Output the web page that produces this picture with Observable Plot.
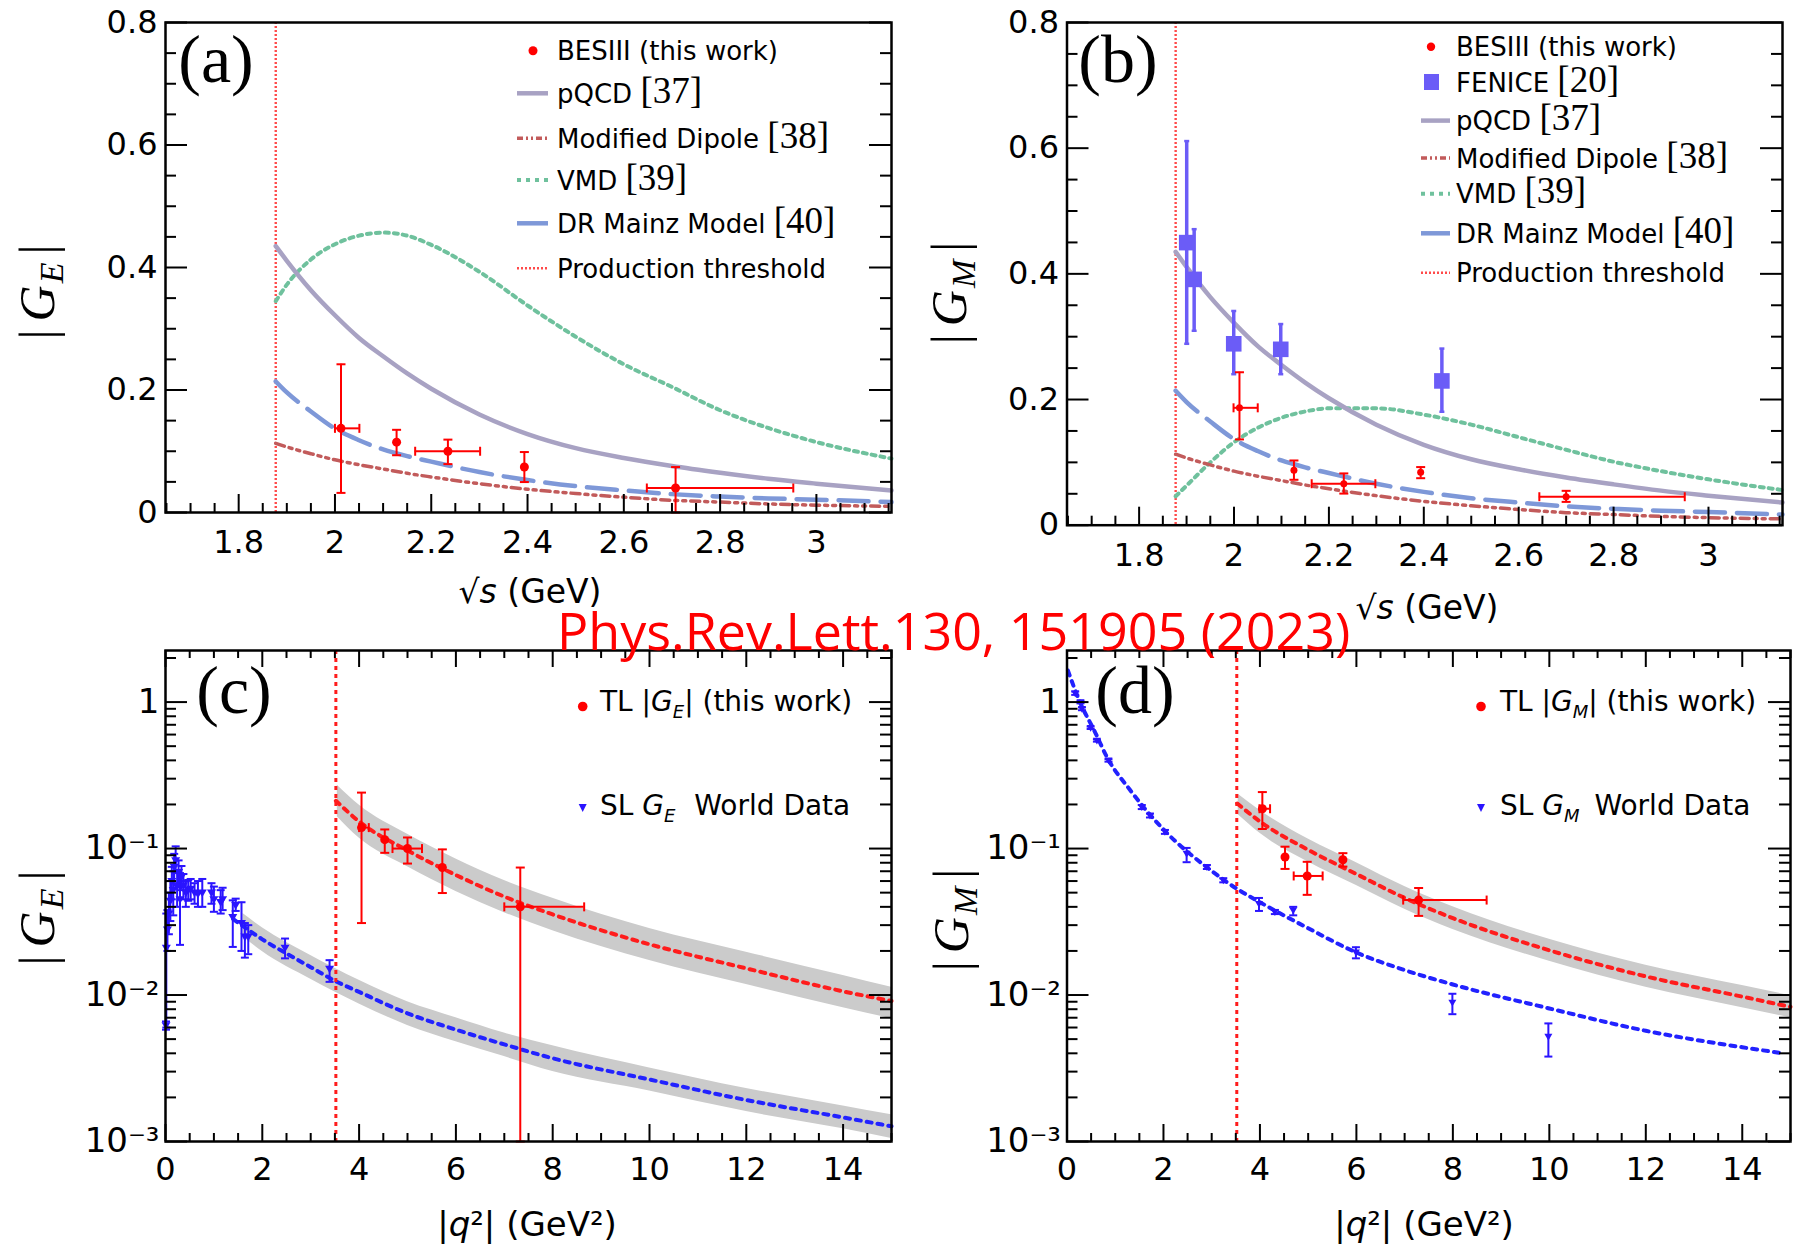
<!DOCTYPE html>
<html><head><meta charset="utf-8">
<script src="https://cdn.jsdelivr.net/npm/d3@7"></script>
<script src="https://cdn.jsdelivr.net/npm/@observablehq/plot@0.6"></script>
<style>
body{margin:0;background:#fff;}
#root{position:relative;width:1801px;height:1251px;overflow:hidden;background:#fff;}
.panel{position:absolute;}
.panel svg{max-width:none;}
#over{position:absolute;left:0;top:0;pointer-events:none;}
</style></head><body><div id="root"></div><script>
// ================= DATA =================
// (a) BESIII |G_E| vs sqrt(s)
const besGE_x   = [2.0125, 2.128, 2.2346, 2.3934, 2.7075];
const besGE_y   = [0.1374, 0.1148, 0.100, 0.0742, 0.040];
const besGE_lo  = [0.032, 0.0935, 0.079, 0.0497, 0.0];
const besGE_hi  = [0.242, 0.135, 0.119, 0.0987, 0.0742];
const besGE_xlo = [2.0, null, 2.1666, null, 2.6478];
const besGE_xhi = [2.0507, null, 2.3015, null, 2.952];
// (b) BESIII |G_M| vs sqrt(s)
const besGM_x   = [2.0115, 2.1263, 2.2314, 2.3934, 2.70];
const besGM_y   = [0.1868, 0.0874, 0.066, 0.0843, 0.0453];
const besGM_lo  = [0.1365, 0.0723, 0.0503, 0.0748, 0.0371];
const besGM_hi  = [0.2434, 0.103, 0.0824, 0.0925, 0.0547];
const besGM_xlo = [1.999, null, 2.1637, null, 2.6435];
const besGM_xhi = [2.050, null, 2.2979, null, 2.95];
// (b) FENICE
const fen_x  = [1.9003, 1.916, 1.9994, 2.0985, 2.4381];
const fen_y  = [0.4497, 0.3912, 0.2887, 0.2799, 0.2296];
const fen_lo = [0.2887, 0.3094, 0.2403, 0.2403, 0.1805];
const fen_hi = [0.6113, 0.4711, 0.3409, 0.3201, 0.2811];
// model curves (a),(b)
const sqrtS_grid = [1.877, 1.9, 1.95, 2.0, 2.05, 2.1, 2.15, 2.2, 2.3, 2.4, 2.5, 2.6, 2.7, 2.8, 2.9, 3.0, 3.156];
const pqcd_y   = [0.435, 0.411, 0.363, 0.322, 0.285, 0.255, 0.227, 0.202, 0.160, 0.128, 0.105, 0.089, 0.076, 0.065, 0.055, 0.047, 0.036];
const moddip_y = [0.113, 0.107, 0.096, 0.086, 0.078, 0.071, 0.064, 0.058, 0.047, 0.038, 0.031, 0.025, 0.020, 0.017, 0.014, 0.012, 0.010];
const vmdE_y   = [0.345, 0.372, 0.413, 0.438, 0.452, 0.457, 0.452, 0.437, 0.393, 0.338, 0.287, 0.242, 0.205, 0.167, 0.138, 0.115, 0.088];
const vmdM_y   = [0.046, 0.063, 0.100, 0.132, 0.155, 0.171, 0.181, 0.186, 0.186, 0.176, 0.160, 0.140, 0.120, 0.101, 0.086, 0.073, 0.056];
const drm_y    = [0.214, 0.196, 0.165, 0.137, 0.118, 0.103, 0.092, 0.083, 0.066, 0.053, 0.043, 0.036, 0.030, 0.026, 0.023, 0.021, 0.017];
const thrS = 1.877;
// (c) TL |G_E| vs |q2|
const tlGE_q2  = [4.05, 4.53, 5.0, 5.72, 7.33];
const tlGE_y   = [0.139, 0.115, 0.100, 0.0742, 0.040];
const tlGE_lo  = [0.031, 0.0935, 0.079, 0.0497, 0.001];
const tlGE_hi  = [0.241, 0.135, 0.119, 0.0987, 0.0742];
const tlGE_xlo = [4.0, null, 4.69, null, 7.0];
const tlGE_xhi = [4.2, null, 5.30, null, 8.65];
// (c) SL G_E world data
const slGE_q2 = [0.01, 0.017, 0.04, 0.07, 0.10, 0.13, 0.16, 0.18, 0.21, 0.24, 0.27, 0.30, 0.33, 0.37, 0.42, 0.47, 0.52, 0.60, 0.67, 0.76, 0.95, 1.0, 1.14, 1.18, 1.39, 1.45, 1.57, 1.64, 1.71, 2.47, 3.39];
const slGE_y  = [0.0062, 0.021, 0.028, 0.036, 0.044, 0.060, 0.052, 0.075, 0.083, 0.055, 0.069, 0.045, 0.064, 0.056, 0.050, 0.052, 0.053, 0.050, 0.049, 0.050, 0.050, 0.045, 0.043, 0.045, 0.034, 0.041, 0.031, 0.025, 0.025, 0.021, 0.0151];
const slGE_lo = [0.0058, 0.006, 0.020, 0.026, 0.032, 0.045, 0.035, 0.058, 0.068, 0.040, 0.055, 0.022, 0.052, 0.045, 0.040, 0.044, 0.045, 0.042, 0.040, 0.040, 0.042, 0.037, 0.036, 0.038, 0.0213, 0.0375, 0.020, 0.018, 0.019, 0.0178, 0.0123];
const slGE_hi = [0.0066, 0.036, 0.038, 0.050, 0.060, 0.075, 0.070, 0.092, 0.1035, 0.070, 0.083, 0.068, 0.076, 0.067, 0.060, 0.061, 0.062, 0.058, 0.060, 0.062, 0.058, 0.055, 0.052, 0.054, 0.0443, 0.0455, 0.043, 0.031, 0.030, 0.0243, 0.0173];
// (c) fits and bands
const fitTLE_x = [3.52, 4, 5, 6, 7, 8, 10, 12, 14, 15];
const fitTLE_y = [0.212, 0.153, 0.097, 0.066, 0.047, 0.0355, 0.0222, 0.0152, 0.0106, 0.0091];
const bandTLE_x  = [3.55, 4, 5, 6, 7, 8, 10, 12, 14, 15];
const bandTLE_lo = [0.165, 0.118, 0.075, 0.051, 0.0365, 0.0275, 0.0172, 0.0118, 0.0082, 0.0069];
const bandTLE_hi = [0.270, 0.198, 0.125, 0.085, 0.0605, 0.0458, 0.0285, 0.0196, 0.0136, 0.0113];
const fitSLE_x = [1.4, 2, 2.5, 3, 3.5, 4, 5, 6, 7, 8, 10, 12, 14, 15];
const fitSLE_y = [0.033, 0.024, 0.0192, 0.0155, 0.0125, 0.0105, 0.0075, 0.0058, 0.0046, 0.0037, 0.00265, 0.00192, 0.00146, 0.00127];
const bandSLE_x  = [1.6, 2, 3, 4, 5, 6, 7, 8, 10, 12, 14, 15];
const bandSLE_lo = [0.025, 0.0198, 0.0128, 0.0087, 0.0062, 0.0048, 0.0038, 0.0030, 0.00221, 0.0016, 0.00122, 0.00105];
const bandSLE_hi = [0.036, 0.0288, 0.0186, 0.0126, 0.0090, 0.0070, 0.0055, 0.0045, 0.00318, 0.0023, 0.00175, 0.00152];
const thrQ2 = 3.52;
// (d) TL |G_M|
const tlGM_q2  = [4.05, 4.52, 4.98, 5.72, 7.29];
const tlGM_y   = [0.187, 0.0875, 0.065, 0.0838, 0.0445];
const tlGM_lo  = [0.136, 0.0726, 0.0483, 0.0753, 0.0347];
const tlGM_hi  = [0.243, 0.103, 0.0812, 0.093, 0.0538];
const tlGM_xlo = [3.99, null, 4.70, null, 6.97];
const tlGM_xhi = [4.21, null, 5.30, null, 8.70];
// (d) SL G_M world data
const slGM_q2 = [0.17, 0.28, 0.31, 0.49, 0.62, 0.86, 1.55, 1.72, 2.03, 2.48, 2.90, 3.24, 3.98, 4.31, 4.69, 5.99, 7.99, 9.98];
const slGM_y  = [1.15, 1.0, 0.90, 0.667, 0.547, 0.40, 0.192, 0.168, 0.130, 0.0923, 0.0748, 0.0607, 0.042, 0.0369, 0.0379, 0.0196, 0.0089, 0.0052];
const slGM_lo = [1.12, 0.98, 0.88, 0.655, 0.537, 0.392, 0.186, 0.163, 0.126, 0.0807, 0.0725, 0.0588, 0.0375, 0.0357, 0.035, 0.0178, 0.0074, 0.0038];
const slGM_hi = [1.18, 1.02, 0.92, 0.68, 0.557, 0.408, 0.198, 0.173, 0.134, 0.101, 0.0771, 0.0626, 0.046, 0.0381, 0.040, 0.0212, 0.0102, 0.0064];
const fitTLM_x = [3.53, 4, 5, 6, 7, 8, 10, 12, 14, 15];
const fitTLM_y = [0.203, 0.153, 0.098, 0.067, 0.046, 0.0335, 0.0202, 0.0134, 0.00975, 0.0083];
const bandTLM_x  = [3.55, 4, 5, 6, 7, 8, 10, 12, 14, 15];
const bandTLM_lo = [0.170, 0.127, 0.081, 0.056, 0.0385, 0.028, 0.017, 0.0113, 0.0082, 0.0070];
const bandTLM_hi = [0.235, 0.182, 0.116, 0.080, 0.055, 0.040, 0.024, 0.016, 0.0116, 0.0099];
const fitSLM_x = [0.02, 0.24, 0.59, 0.83, 1.3, 2.0, 2.97, 3.5, 4.0, 5, 6, 7, 8, 10, 12, 14, 14.85];
const fitSLM_y = [1.64, 1.05, 0.615, 0.42, 0.253, 0.135, 0.0715, 0.0537, 0.043, 0.0286, 0.0195, 0.0148, 0.0118, 0.0081, 0.0057, 0.0044, 0.0040];

// tick values and labels
const xTickS = [1.8, 2.0, 2.2, 2.4, 2.6, 2.8, 3.0];
const xLabS  = ["1.8", "2", "2.2", "2.4", "2.6", "2.8", "3"];
const yTickLin = [0, 0.2, 0.4, 0.6, 0.8];
const yLabLin  = ["0", "0.2", "0.4", "0.6", "0.8"];
const xTickQ = [0, 2, 4, 6, 8, 10, 12, 14];
const xLabQ  = ["0", "2", "4", "6", "8", "10", "12", "14"];
const yTickLog = [0.001, 0.01, 0.1, 1];
const yLabLog  = ["10\u207B\u00B3", "10\u207B\u00B2", "10\u207B\u00B9", "1"];

// ================= HELPERS =================
const recs = (xs, f) => xs.map((x, i) => f(x, i));
const hcap = {draw(ctx, size){const r = Math.sqrt(size / Math.PI); ctx.moveTo(-r, 0); ctx.lineTo(r, 0);}};
const vcap = {draw(ctx, size){const r = Math.sqrt(size / Math.PI); ctx.moveTo(0, -r); ctx.lineTo(0, r);}};
const tridown = {draw(ctx, size){const r = Math.sqrt(size / Math.PI); ctx.moveTo(-r, -r * 0.7); ctx.lineTo(r, -r * 0.7); ctx.lineTo(0, r); ctx.closePath();}};

const C = {
  red: "#ff0000", fen: "#6b5cf7", pqcd: "#a8a2c3", dip: "#c25b5b", vmd: "#6fc19d", drm: "#7e98d8",
  thr: "#ff4a4a", blue: "#2a14ff", band: "#cbcbcb", fitR: "#ff1c1c", fitB: "#2222ff"
};

const root = document.getElementById("root");
function place(svg, left, top, w, h) {
  const div = document.createElement("div");
  div.className = "panel";
  div.style.left = left + "px"; div.style.top = top + "px";
  div.style.width = w + "px"; div.style.height = h + "px";
  div.appendChild(svg);
  root.appendChild(div);
  return d3.select(svg);
}

function frameTicks(o) {
  const {xMaj, xMin, yMaj, yMin, fw, fh, xl, yl, top} = o;
  const st = {stroke: "black", strokeWidth: 2};
  const m = [
    Plot.tickX(xMaj, {x: d => d, insetTop: fh - xl[0], ...st}),
    Plot.tickX(xMin, {x: d => d, insetTop: fh - xl[1], ...st}),
    Plot.tickY(yMaj, {y: d => d, insetRight: fw - yl[0], ...st}),
    Plot.tickY(yMin, {y: d => d, insetRight: fw - yl[1], ...st}),
    Plot.tickY(yMaj, {y: d => d, insetLeft: fw - yl[0], ...st}),
    Plot.tickY(yMin, {y: d => d, insetLeft: fw - yl[1], ...st})
  ];
  if (top) {
    m.push(Plot.tickX(xMaj, {x: d => d, insetBottom: fh - xl[0], ...st}));
    m.push(Plot.tickX(xMin, {x: d => d, insetBottom: fh - xl[1], ...st}));
  }
  return m;
}

function errMarks(data, hb, color, r, capR, sw) {
  return [
    Plot.ruleX(data, {x: "x", y1: "lo", y2: "hi", stroke: color, strokeWidth: sw}),
    Plot.ruleY(hb, {y: "y", x1: "xlo", x2: "xhi", stroke: color, strokeWidth: sw}),
    Plot.dot(data, {x: "x", y: "hi", symbol: hcap, r: capR, stroke: color, strokeWidth: sw, fill: "none"}),
    Plot.dot(data, {x: "x", y: "lo", symbol: hcap, r: capR, stroke: color, strokeWidth: sw, fill: "none"}),
    Plot.dot(hb, {x: "xlo", y: "y", symbol: vcap, r: capR, stroke: color, strokeWidth: sw, fill: "none"}),
    Plot.dot(hb, {x: "xhi", y: "y", symbol: vcap, r: capR, stroke: color, strokeWidth: sw, fill: "none"}),
    Plot.dot(data, {x: "x", y: "y", r: r, fill: color, stroke: "none"})
  ];
}

function txt(g, x, y, parts, size, fam) {
  const t = g.append("text").attr("x", x).attr("y", y).attr("text-anchor", "start")
    .attr("font-family", fam || "DejaVu Sans").attr("font-size", size).attr("fill", "black")
    .attr("style", "white-space:pre");
  parts.forEach(p => {
    const s = t.append("tspan").text(p.t);
    if (p.serif) s.attr("font-family", "Liberation Serif").attr("font-size", p.size || 37);
    if (p.italic) s.attr("font-style", "italic");
    if (p.fs) s.attr("font-size", p.fs);
    if (p.dy) s.attr("dy", p.dy);
    if (p.dx) s.attr("dx", p.dx);
  });
  return t;
}

function yTitle(g, bx, cy, sub) {
  const t = g.append("text").attr("transform", `translate(${bx},${cy}) rotate(-90)`)
    .attr("text-anchor", "middle").attr("font-family", "Liberation Serif").attr("font-size", 50).attr("fill", "black");
  t.append("tspan").text("|");
  t.append("tspan").attr("dx", 8).attr("font-style", "italic").text("G");
  t.append("tspan").attr("dx", 2).attr("dy", 9).attr("font-style", "italic").attr("font-size", 34).text(sub);
  t.append("tspan").attr("dx", 8).attr("dy", -9).text("|");
}

function lineSample(g, x1, x2, y, stroke, sw, dash) {
  const l = g.append("line").attr("x1", x1).attr("x2", x2).attr("y1", y).attr("y2", y)
    .attr("stroke", stroke).attr("stroke-width", sw);
  if (dash) l.attr("stroke-dasharray", dash);
}

const baseStyle = {fontFamily: "DejaVu Sans", fontSize: "32px", background: "transparent", overflow: "visible", color: "black"};
const dashDip = "9,5,3,5,3,5", dashVmd = "4,5", dashDrm = "30,12", dashThr = "2,2";

// ================= PANEL (a),(b) common =================
const modelRecs = recs(sqrtS_grid, (x, i) => ({x, pq: pqcd_y[i], dip: moddip_y[i], ve: vmdE_y[i], vm: vmdM_y[i], dr: drm_y[i]}));
const xMinS = d3.range(1.65, 3.16, 0.05).map(v => +v.toFixed(2)).filter(v => !xTickS.some(t => Math.abs(t - v) < 1e-6));
const yMinLin = d3.range(0.05, 0.8, 0.05).map(v => +v.toFixed(2)).filter(v => !yTickLin.some(t => Math.abs(t - v) < 1e-6));

function modelMarks(vmdKey) {
  return [
    Plot.ruleX([thrS], {x: d => d, stroke: C.thr, strokeWidth: 2.4, strokeDasharray: dashThr}),
    Plot.line(modelRecs, {x: "x", y: vmdKey, stroke: C.vmd, strokeWidth: 4, strokeDasharray: dashVmd, curve: "monotone-x"}),
    Plot.line(modelRecs, {x: "x", y: "pq", stroke: C.pqcd, strokeWidth: 4.5, curve: "monotone-x"}),
    Plot.line(modelRecs, {x: "x", y: "dip", stroke: C.dip, strokeWidth: 3.5, strokeDasharray: dashDip, curve: "monotone-x"}),
    Plot.line(modelRecs, {x: "x", y: "dr", stroke: C.drm, strokeWidth: 4.5, strokeDasharray: dashDrm, curve: "monotone-x"})
  ];
}

function linAxes(fw, fh) {
  return [
    ...frameTicks({xMaj: xTickS, xMin: xMinS, yMaj: yTickLin, yMin: yMinLin, fw, fh, xl: [18, 9], yl: [22, 11], top: false}),
    Plot.axisX(xTickS, {tickSize: 0, tickPadding: 18, tickFormat: d => xLabS[xTickS.indexOf(d)], label: null, fontSize: 32}),
    Plot.axisY(yTickLin, {tickSize: 0, tickPadding: 8, tickFormat: d => yLabLin[yTickLin.indexOf(d)], label: null, fontSize: 32}),
    Plot.frame({stroke: "black", strokeWidth: 2.5})
  ];
}

// ---- (a)
{
  const W = 900, H = 620, mL = 165, mR = 9, mT = 22, mB = 108;
  const fw = W - mL - mR, fh = H - mT - mB;
  const data = recs(besGE_x, (x, i) => ({x, y: besGE_y[i], lo: besGE_lo[i], hi: besGE_hi[i], xlo: besGE_xlo[i], xhi: besGE_xhi[i]}));
  const hb = data.filter(d => d.xlo != null);
  const svg = Plot.plot({
    width: W, height: H, marginLeft: mL, marginRight: mR, marginTop: mT, marginBottom: mB,
    x: {domain: [1.648, 3.156]}, y: {domain: [0, 0.8]}, style: baseStyle,
    marks: [...modelMarks("ve"), ...errMarks(data, hb, C.red, 4.5, 4.5, 2), ...linAxes(fw, fh)]
  });
  const g = place(svg, 0, 0, W, H);
  const rows = [50.7, 93.3, 138.3, 180, 223.3, 268.3];
  g.append("circle").attr("cx", 533).attr("cy", rows[0]).attr("r", 4.5).attr("fill", C.red);
  lineSample(g, 517, 548, rows[1], C.pqcd, 4.5);
  lineSample(g, 517, 548, rows[2], C.dip, 3.5, "6,3,2,3,2,3");
  lineSample(g, 517, 548, rows[3], C.vmd, 4, dashVmd);
  lineSample(g, 517, 548, rows[4], C.drm, 4.5);
  lineSample(g, 517, 548, rows[5], C.thr, 2.4, dashThr);
  txt(g, 557, rows[0] + 9.5, [{t: "BESIII (this work)"}], 26);
  txt(g, 557, rows[1] + 9.5, [{t: "pQCD "}, {t: "[37]", serif: true}], 26);
  txt(g, 557, rows[2] + 9.5, [{t: "Modified Dipole "}, {t: "[38]", serif: true}], 26);
  txt(g, 557, rows[3] + 9.5, [{t: "VMD "}, {t: "[39]", serif: true}], 26);
  txt(g, 557, rows[4] + 9.5, [{t: "DR Mainz Model "}, {t: "[40]", serif: true}], 26);
  txt(g, 557, rows[5] + 9.5, [{t: "Production threshold"}], 26);
  g.append("text").attr("x", 216).attr("y", 82).attr("text-anchor", "middle").attr("font-family", "Liberation Serif").attr("font-size", 68).text("(a)");
  yTitle(g, 54, 292, "E");
  txt(g, 530, 603, [{t: "\u221A"}, {t: "s", italic: true}, {t: " (GeV)"}], 33).attr("text-anchor", "middle");
}

// ---- (b)
{
  const W = 901, H = 640, mL = 166.5, mR = 19, mT = 22, mB = 115.3;
  const fw = W - mL - mR, fh = H - mT - mB;
  const data = recs(besGM_x, (x, i) => ({x, y: besGM_y[i], lo: besGM_lo[i], hi: besGM_hi[i], xlo: besGM_xlo[i], xhi: besGM_xhi[i]}));
  const hb = data.filter(d => d.xlo != null);
  const fen = recs(fen_x, (x, i) => ({x, y: fen_y[i], lo: fen_lo[i], hi: fen_hi[i]}));
  const svg = Plot.plot({
    width: W, height: H, marginLeft: mL, marginRight: mR, marginTop: mT, marginBottom: mB,
    x: {domain: [1.648, 3.156]}, y: {domain: [0, 0.8]}, style: baseStyle,
    marks: [
      ...modelMarks("vm"),
      Plot.ruleX(fen, {x: "x", y1: "lo", y2: "hi", stroke: C.fen, strokeWidth: 3.5}),
      Plot.dot(fen, {x: "x", y: "hi", symbol: hcap, r: 2.5, stroke: C.fen, strokeWidth: 2.5, fill: "none"}),
      Plot.dot(fen, {x: "x", y: "lo", symbol: hcap, r: 2.5, stroke: C.fen, strokeWidth: 2.5, fill: "none"}),
      Plot.dot(fen, {x: "x", y: "y", symbol: "square", r: 8.8, fill: C.fen, stroke: "none"}),
      ...errMarks(data, hb, C.red, 3.5, 4.5, 2),
      ...linAxes(fw, fh)
    ]
  });
  const g = place(svg, 900, 0, W, H);
  const rows = [46.7, 82, 120.6, 158, 193.7, 233.3, 272.8];
  g.append("circle").attr("cx", 531).attr("cy", rows[0]).attr("r", 4.2).attr("fill", C.red);
  g.append("rect").attr("x", 524).attr("y", rows[1] - 8).attr("width", 15).attr("height", 16).attr("fill", C.fen);
  lineSample(g, 521, 550, rows[2], C.pqcd, 4.5);
  lineSample(g, 521, 550, rows[3], C.dip, 3.5, "6,3,2,3,2,3");
  lineSample(g, 521, 550, rows[4], C.vmd, 4, dashVmd);
  lineSample(g, 521, 550, rows[5], C.drm, 4.5);
  lineSample(g, 521, 550, rows[6], C.thr, 2.4, dashThr);
  txt(g, 556, rows[0] + 9.5, [{t: "BESIII (this work)"}], 26);
  txt(g, 556, rows[1] + 9.5, [{t: "FENICE "}, {t: "[20]", serif: true}], 26);
  txt(g, 556, rows[2] + 9.5, [{t: "pQCD "}, {t: "[37]", serif: true}], 26);
  txt(g, 556, rows[3] + 9.5, [{t: "Modified Dipole "}, {t: "[38]", serif: true}], 26);
  txt(g, 556, rows[4] + 9.5, [{t: "VMD "}, {t: "[39]", serif: true}], 26);
  txt(g, 556, rows[5] + 9.5, [{t: "DR Mainz Model "}, {t: "[40]", serif: true}], 26);
  txt(g, 556, rows[6] + 9.5, [{t: "Production threshold"}], 26);
  g.append("text").attr("x", 218).attr("y", 82).attr("text-anchor", "middle").attr("font-family", "Liberation Serif").attr("font-size", 68).text("(b)");
  yTitle(g, 66, 293, "M");
  txt(g, 527, 619, [{t: "\u221A"}, {t: "s", italic: true}, {t: " (GeV)"}], 33).attr("text-anchor", "middle");
}

// ================= PANEL (c),(d) common =================
const xMinQ = d3.range(0.5, 15.01, 0.5).filter(v => !xTickQ.includes(v));
const yMinLog = [];
[0.001, 0.01, 0.1, 1].forEach(dec => [2, 3, 4, 5, 6, 7, 8, 9].forEach(k => { const v = +(k * dec).toPrecision(3); if (v <= 2.25) yMinLog.push(v); }));

function logAxes(fw, fh) {
  return [
    ...frameTicks({xMaj: xTickQ, xMin: xMinQ, yMaj: yTickLog, yMin: yMinLog, fw, fh, xl: [17, 8], yl: [22, 11], top: true}),
    Plot.axisX(xTickQ, {tickSize: 0, tickPadding: 16, tickFormat: d => xLabQ[xTickQ.indexOf(d)], label: null, fontSize: 32}),
    Plot.axisY(yTickLog, {tickSize: 0, tickPadding: 6, tickFormat: d => yLabLog[yTickLog.indexOf(d)], label: null, fontSize: 34}),
    Plot.frame({stroke: "black", strokeWidth: 2.5})
  ];
}
const dashFit = "5,6";

// ---- (c)
{
  const W = 900, H = 631, mL = 165, mR = 9, mT = 30, mB = 110;
  const fw = W - mL - mR, fh = H - mT - mB;
  const tl = recs(tlGE_q2, (x, i) => ({x, y: tlGE_y[i], lo: tlGE_lo[i], hi: tlGE_hi[i], xlo: tlGE_xlo[i], xhi: tlGE_xhi[i]}));
  const hb = tl.filter(d => d.xlo != null);
  const sl = recs(slGE_q2, (x, i) => ({x, y: slGE_y[i], lo: slGE_lo[i], hi: slGE_hi[i]}));
  const bandT = recs(bandTLE_x, (x, i) => ({x, lo: bandTLE_lo[i], hi: bandTLE_hi[i]}));
  const bandS = recs(bandSLE_x, (x, i) => ({x, lo: bandSLE_lo[i], hi: bandSLE_hi[i]}));
  const fitT = recs(fitTLE_x, (x, i) => ({x, y: fitTLE_y[i]}));
  const fitS = recs(fitSLE_x, (x, i) => ({x, y: fitSLE_y[i]}));
  const svg = Plot.plot({
    width: W, height: H, marginLeft: mL, marginRight: mR, marginTop: mT, marginBottom: mB,
    x: {domain: [0, 15]}, y: {type: "log", domain: [0.001, 2.25]}, style: baseStyle,
    marks: [
      Plot.areaY(bandT, {x: "x", y1: "lo", y2: "hi", fill: C.band, curve: "monotone-x"}),
      Plot.areaY(bandS, {x: "x", y1: "lo", y2: "hi", fill: C.band, curve: "monotone-x"}),
      Plot.line(fitT, {x: "x", y: "y", stroke: C.fitR, strokeWidth: 4, strokeDasharray: dashFit, curve: "monotone-x"}),
      Plot.line(fitS, {x: "x", y: "y", stroke: C.fitB, strokeWidth: 4, strokeDasharray: dashFit, curve: "monotone-x"}),
      Plot.ruleX([thrQ2], {x: d => d, stroke: C.fitR, strokeWidth: 3, strokeDasharray: "4,4"}),
      Plot.ruleX(sl, {x: "x", y1: "lo", y2: "hi", stroke: C.blue, strokeWidth: 2}),
      Plot.dot(sl, {x: "x", y: "hi", symbol: hcap, r: 4, stroke: C.blue, strokeWidth: 2, fill: "none"}),
      Plot.dot(sl, {x: "x", y: "lo", symbol: hcap, r: 4, stroke: C.blue, strokeWidth: 2, fill: "none"}),
      Plot.dot(sl, {x: "x", y: "y", symbol: tridown, r: 4.5, fill: C.blue, stroke: "none"}),
      ...errMarks(tl, hb, C.red, 4.5, 4.5, 2),
      ...logAxes(fw, fh)
    ]
  });
  const g = place(svg, 0, 620, W, H);
  g.append("circle").attr("cx", 582.7).attr("cy", 86.5).attr("r", 4.8).attr("fill", C.red);
  g.append("path").attr("transform", "translate(582.7,187)").attr("d", "M-4,-3L4,-3L0,5Z").attr("fill", C.blue);
  txt(g, 600, 90.5, [{t: "TL |"}, {t: "G", italic: true}, {t: "E", italic: true, fs: 18, dy: 7}, {t: "| (this work)", dy: -7}], 28);
  txt(g, 600, 195, [{t: "SL "}, {t: "G", italic: true}, {t: "E", italic: true, fs: 18, dy: 7}, {t: " World Data", dy: -7, dx: 10}], 28);
  g.append("text").attr("x", 234).attr("y", 93).attr("text-anchor", "middle").attr("font-family", "Liberation Serif").attr("font-size", 68).text("(c)");
  yTitle(g, 54, 298, "E");
  txt(g, 527, 616, [{t: "|"}, {t: "q", italic: true}, {t: "\u00B2| (GeV\u00B2)"}], 34).attr("text-anchor", "middle");
}

// ---- (d)
{
  const W = 901, H = 631, mL = 166.5, mR = 11, mT = 30, mB = 110;
  const fw = W - mL - mR, fh = H - mT - mB;
  const tl = recs(tlGM_q2, (x, i) => ({x, y: tlGM_y[i], lo: tlGM_lo[i], hi: tlGM_hi[i], xlo: tlGM_xlo[i], xhi: tlGM_xhi[i]}));
  const hb = tl.filter(d => d.xlo != null);
  const sl = recs(slGM_q2, (x, i) => ({x, y: slGM_y[i], lo: slGM_lo[i], hi: slGM_hi[i]}));
  const bandT = recs(bandTLM_x, (x, i) => ({x, lo: bandTLM_lo[i], hi: bandTLM_hi[i]}));
  const fitT = recs(fitTLM_x, (x, i) => ({x, y: fitTLM_y[i]}));
  const fitS = recs(fitSLM_x, (x, i) => ({x, y: fitSLM_y[i]}));
  const svg = Plot.plot({
    width: W, height: H, marginLeft: mL, marginRight: mR, marginTop: mT, marginBottom: mB,
    x: {domain: [0, 15]}, y: {type: "log", domain: [0.001, 2.25]}, style: baseStyle,
    marks: [
      Plot.areaY(bandT, {x: "x", y1: "lo", y2: "hi", fill: C.band, curve: "monotone-x"}),
      Plot.line(fitT, {x: "x", y: "y", stroke: C.fitR, strokeWidth: 4, strokeDasharray: dashFit, curve: "monotone-x"}),
      Plot.line(fitS, {x: "x", y: "y", stroke: C.fitB, strokeWidth: 4, strokeDasharray: dashFit, curve: "monotone-x"}),
      Plot.ruleX([thrQ2], {x: d => d, stroke: C.fitR, strokeWidth: 3, strokeDasharray: "4,4"}),
      Plot.ruleX(sl, {x: "x", y1: "lo", y2: "hi", stroke: C.blue, strokeWidth: 2}),
      Plot.dot(sl, {x: "x", y: "hi", symbol: hcap, r: 4, stroke: C.blue, strokeWidth: 2, fill: "none"}),
      Plot.dot(sl, {x: "x", y: "lo", symbol: hcap, r: 4, stroke: C.blue, strokeWidth: 2, fill: "none"}),
      Plot.dot(sl, {x: "x", y: "y", symbol: tridown, r: 4, fill: C.blue, stroke: "none"}),
      ...errMarks(tl, hb, C.red, 4.5, 4.5, 2),
      ...logAxes(fw, fh)
    ]
  });
  const g = place(svg, 900, 620, W, H);
  g.append("circle").attr("cx", 581).attr("cy", 86.5).attr("r", 4.8).attr("fill", C.red);
  g.append("path").attr("transform", "translate(581,187)").attr("d", "M-4,-3L4,-3L0,5Z").attr("fill", C.blue);
  txt(g, 600, 90.5, [{t: "TL |"}, {t: "G", italic: true}, {t: "M", italic: true, fs: 18, dy: 7}, {t: "| (this work)", dy: -7}], 28);
  txt(g, 600, 195, [{t: "SL "}, {t: "G", italic: true}, {t: "M", italic: true, fs: 18, dy: 7}, {t: " World Data", dy: -7, dx: 6}], 28);
  g.append("text").attr("x", 235).attr("y", 93).attr("text-anchor", "middle").attr("font-family", "Liberation Serif").attr("font-size", 68).text("(d)");
  yTitle(g, 68, 300, "M");
  txt(g, 524, 616, [{t: "|"}, {t: "q", italic: true}, {t: "\u00B2| (GeV\u00B2)"}], 34).attr("text-anchor", "middle");
}

// ================= WATERMARK =================
{
  const over = d3.select(root).append("svg").attr("id", "over").attr("width", 1801).attr("height", 1251);
  over.append("text").attr("x", 557).attr("y", 650).attr("font-family", "Open Sans").attr("font-size", 52)
    .attr("fill", "#ff0000").text("Phys.Rev.Lett.130, 151905 (2023)");
}
</script></body></html>
